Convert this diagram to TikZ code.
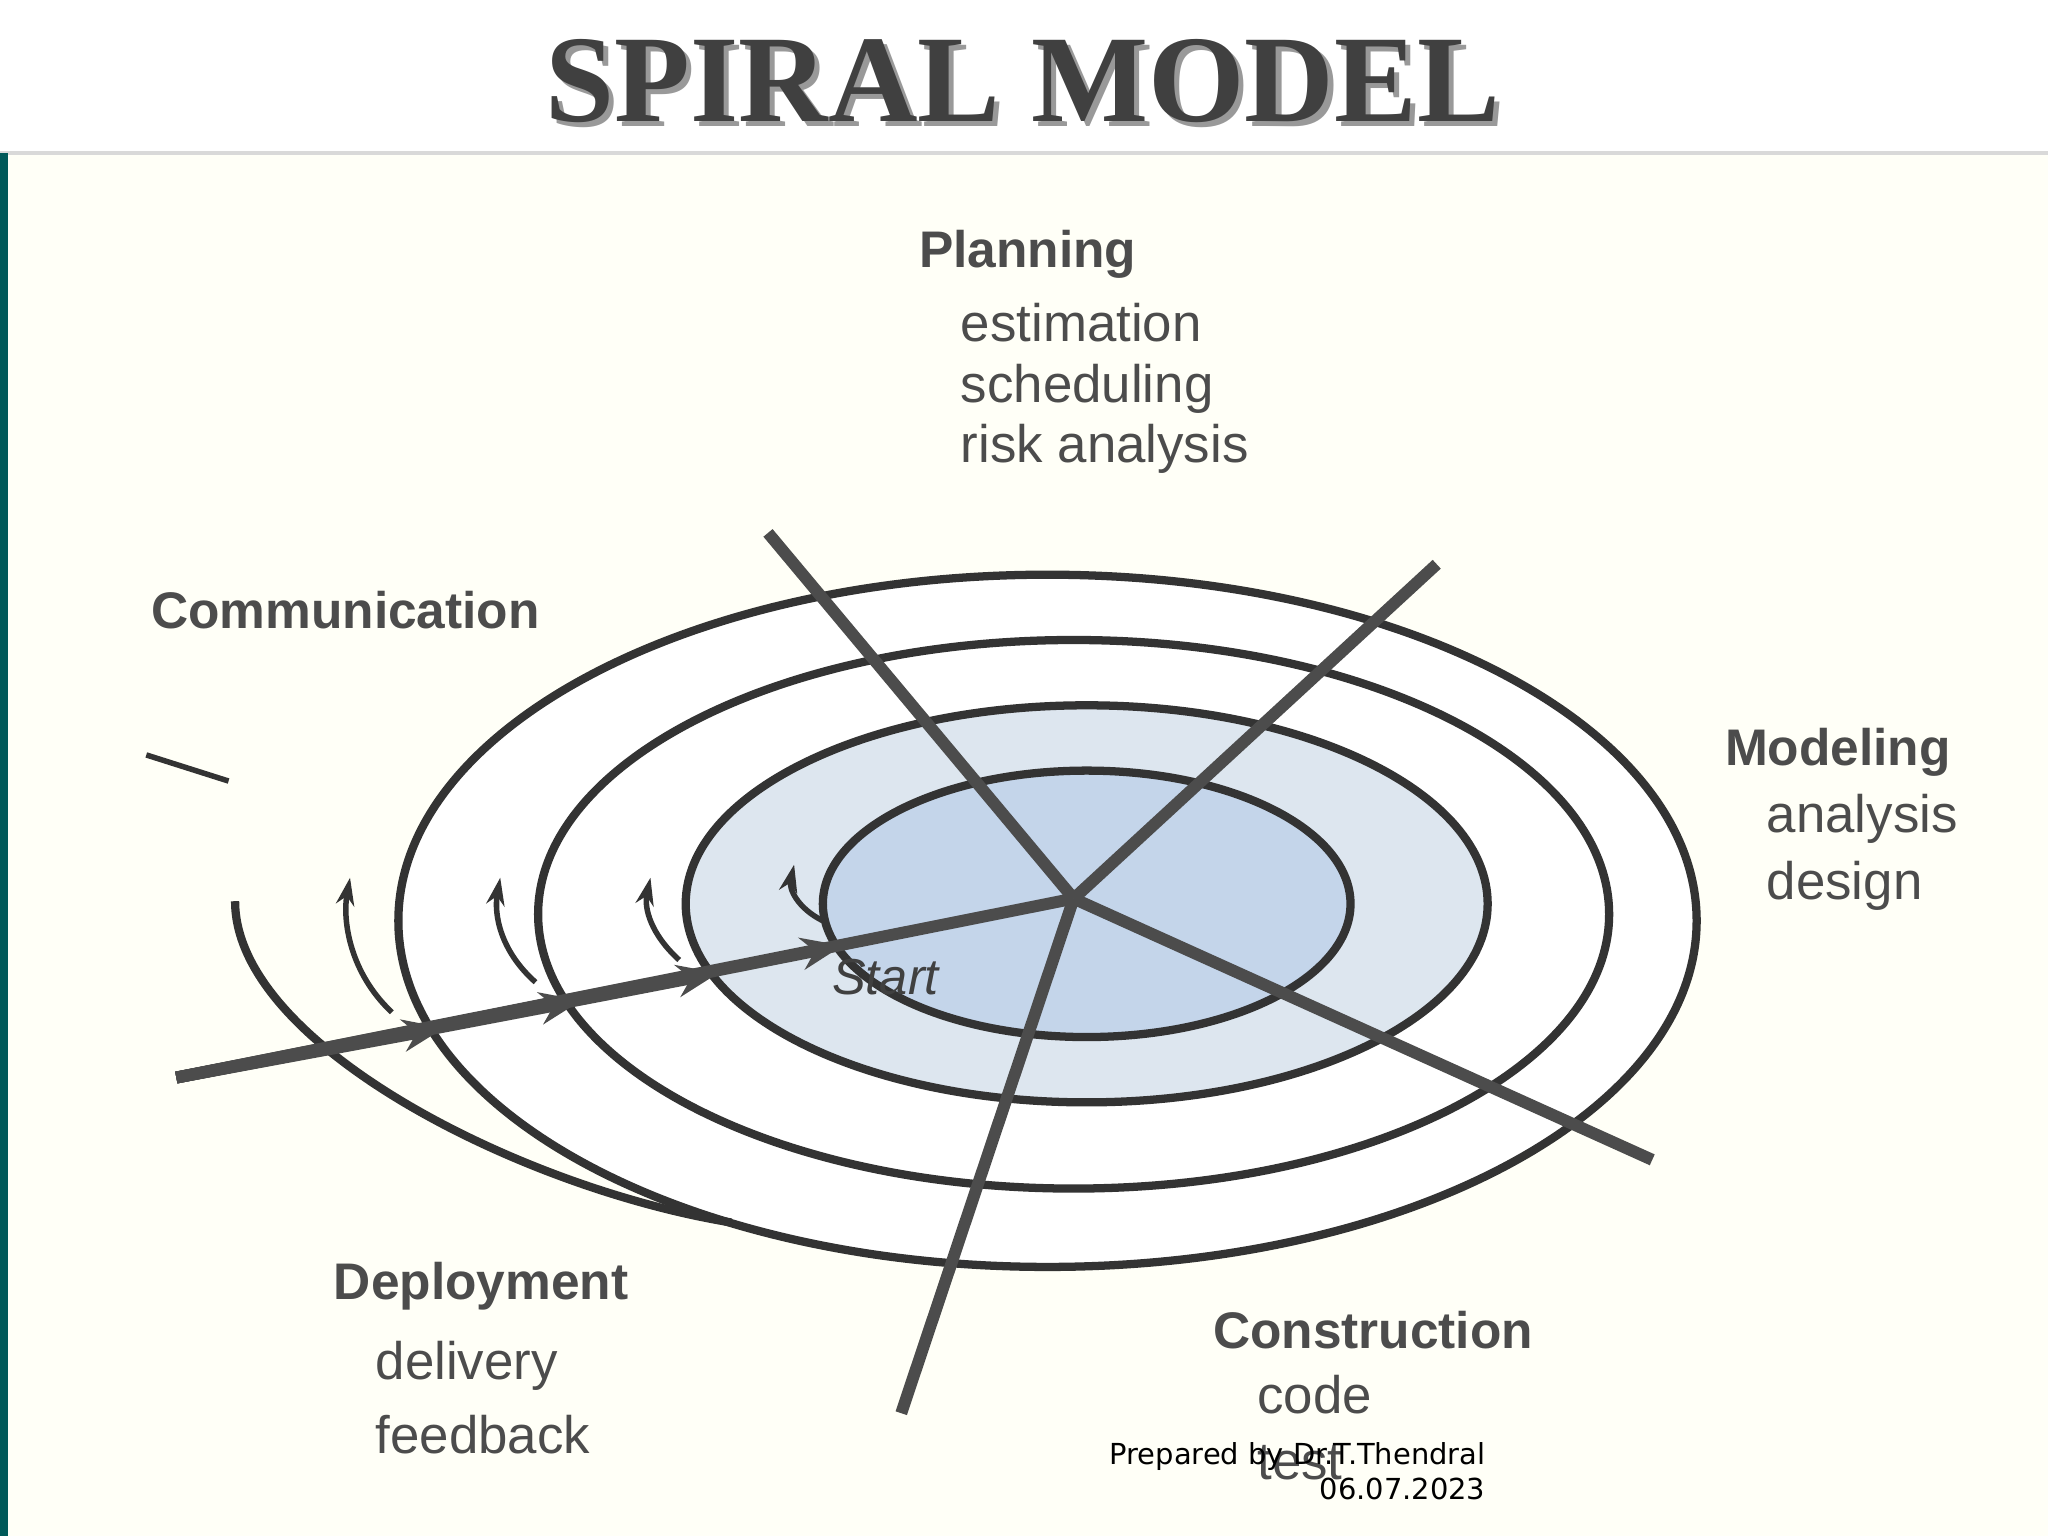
\documentclass[tikz,border=0pt]{standalone}
\usepackage{fontspec}
\setmainfont{Liberation Sans}
\newfontfamily\titlefont{Liberation Serif}
\newfontfamily\footfont{DejaVu Sans}
\usetikzlibrary{arrows.meta}
\begin{document}
\begin{tikzpicture}[x=0.01cm,y=-0.01cm,
  lbl/.style={text=black!70,font=\fontsize{11.2pt}{13pt}\selectfont\bfseries,anchor=west,inner sep=0},
  sub/.style={text=black!70,font=\fontsize{11.5pt}{13.5pt}\selectfont,anchor=west,inner sep=0},
  ring/.style={line width=1.8pt,draw=black!80},
  spoke/.style={line width=2.6pt,draw=black!70},
  tip/.style={-{Stealth[length=9pt,width=7pt]}},
  small/.style={line width=1.2pt,draw=black!80,-{Stealth[length=6pt,width=4pt]}}]
\useasboundingbox (0,0) rectangle (1568,1176);
\definecolor{b1}{HTML}{C4D5EA}
\definecolor{b2}{HTML}{DDE6EF}
\fill[white] (0,0) rectangle (1568,117);
\fill[yellow!3!white] (0,117) rectangle (1568,1176);
\draw[black!15,line width=0.8pt] (0,117) -- (1568,117);
\fill[teal!70!black] (0,117) rectangle (6,1176);
\node[text=black!40,font=\titlefont\fontsize{27pt}{30pt}\selectfont\bfseries] at (787,66) {SPIRAL MODEL};
\node[text=black!75,font=\titlefont\fontsize{27pt}{30pt}\selectfont\bfseries] (title) at (783,62) {SPIRAL MODEL};
% rings
\coordinate (c) at (822,688);
\draw[ring,fill=white] (802,705) ellipse [x radius=497,y radius=265];
\draw[ring,fill=white] (822,700) ellipse [x radius=410,y radius=210];
\draw[ring,fill=b2] (832,692) ellipse [x radius=307,y radius=152];
\draw[ring,fill=b1] (832,692) ellipse [x radius=202,y radius=102];
\draw[ring] (180,690) .. controls (180,800) and (400,910) .. (560,936);
% spokes
\coordinate (p1) at (588,408);
\coordinate (p2) at (1100,432);
\coordinate (p3) at (1265,888);
\coordinate (p4) at (690,1082);
\coordinate (s) at (135,825);
\draw[spoke] (c) -- (p1);
\draw[spoke] (c) -- (p2);
\draw[spoke] (c) -- (p3);
\draw[spoke] (c) -- (p4);
\draw[spoke] (s) -- (c);
\draw[spoke,tip] (s) -- (340,787);
\draw[spoke,tip] (s) -- (445,766);
\draw[spoke,tip] (s) -- (550,745);
\draw[spoke,tip] (s) -- (645,724);
% small arrows
\coordinate (a1) at (268,672);
\coordinate (a2) at (383,672);
\coordinate (a3) at (498,672);
\coordinate (a4) at (608,662);
\draw[small] (300,775) .. controls (268,745) and (262,705) .. (a1);
\draw[small] (410,752) .. controls (383,728) and (378,700) .. (a2);
\draw[small] (520,735) .. controls (498,715) and (493,695) .. (a3);
\draw[small] (630,705) .. controls (610,695) and (604,680) .. (a4);
\draw[line width=1.2pt,black!80] (112,578) -- (175,598);
% labels
\node[lbl] (pl) at (703,195) {Planning};
\node[sub] at (735,247) {estimation};
\node[sub] at (735,298) {scheduling};
\node[sub] at (735,344) {risk analysis};
\node[lbl] (co) at (115,467) {Communication};
\node[lbl] (mo) at (1320,576) {Modeling};
\node[sub] at (1352,627) {analysis};
\node[sub] at (1352,678) {design};
\node[lbl] (de) at (255,985) {Deployment};
\node[sub] at (287,1046) {delivery};
\node[sub] at (287,1098) {feedback};
\node[lbl] (cn) at (928,1018) {Construction};
\node[sub] at (962,1068) {code};
\node[sub] at (962,1120) {test};
\node[text=black!75,font=\fontsize{11pt}{13pt}\selectfont\itshape,inner sep=0] (st) at (678,748) {Start};
\node[font=\footfont\fontsize{6.3pt}{7.5pt}\selectfont,anchor=north east,align=right,inner sep=0] (ft) at (1138,1104) {Prepared by Dr.T.Thendral\\06.07.2023};
\end{tikzpicture}
\end{document}
